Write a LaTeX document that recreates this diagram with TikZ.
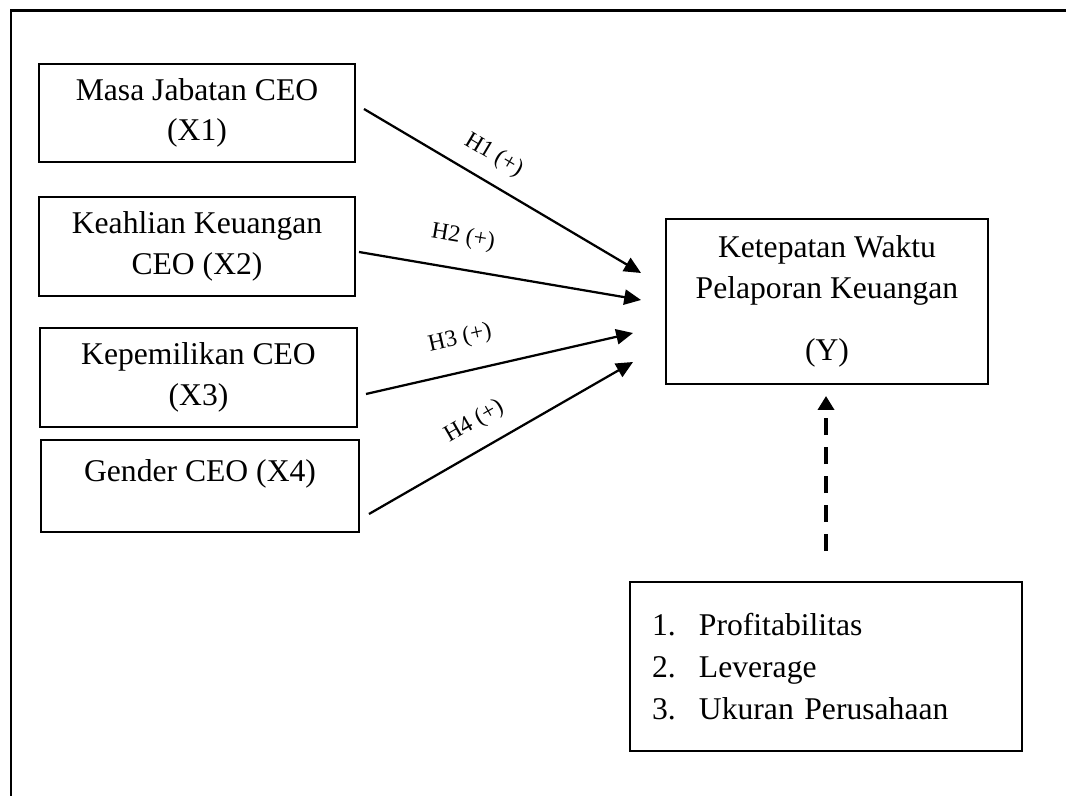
\documentclass[tikz,border=0pt]{standalone}
\usepackage{fontspec}
\setmainfont{Liberation Serif}
\usetikzlibrary{%
    arrows.meta,calc,%
    positioning
}

\begin{document}
\begin{tikzpicture}[ var/.style={draw,line width=1.4pt,align=center,
        font={\fontsize{22.5}{29}\selectfont},
        minimum width=7.9cm,minimum height=2.45cm,inner sep=0pt},
    hyp/.style={font={\fontsize{16.8}{18}\selectfont},sloped,inner sep=1pt},
    link/.style={line width=1.6pt,-{Triangle[length=0.42cm,width=0.38cm]}}]
\useasboundingbox (0,0) rectangle (26.65,19.9);
\draw[line width=1.5pt] (26.65,19.6375) -- (0.275,19.6375) -- (0.275,0);

% variabel independen
\node[var] (x1) at (4.925,17.075) {Masa Jabatan CEO\\(X1)};
\node[var,minimum height=2.475cm] (x2) at (4.925,13.7375) {Keahlian Keuangan\\CEO (X2)};
\node[var,minimum width=7.925cm,minimum height=2.475cm] (x3) at (4.9625,10.4625) {Kepemilikan CEO\\(X3)};
\node[var,minimum width=7.95cm,minimum height=2.3cm,text depth=0.75cm] (x4) at (5,7.75) {Gender CEO (X4)};

% variabel dependen
\node[var,minimum width=8.05cm,minimum height=4.125cm] (y) at (20.675,12.3625) {Ketepatan Waktu\\Pelaporan Keuangan\\[0.55cm](Y)};

% variabel kontrol
\node[var,font={\fontsize{22.5}{30.1}\selectfont},align=left,text width=8.7cm,
    minimum height=4.225cm,inner xsep=0.55cm] (ctrl) at (20.65,3.2375)
    {\makebox[1.175cm][l]{1.}Profitabilitas\\
     \makebox[1.175cm][l]{2.}Leverage\\
     \makebox[1.175cm][l]{3.}Ukuran Perusahaan};

\coordinate (t1) at ($(y.west)+(-0.6,0.7125)$);
\coordinate (t2) at ($(y.west)+(-0.6,0.0375)$);
\coordinate (t3) at ($(y.west)+(-0.8,-0.7875)$);
\coordinate (t4) at ($(y.west)+(-0.8,-1.5125)$);

\draw[link] ([shift={(0.2,0.1)}]x1.east) -- (t1) node[hyp,pos=0.42,above=0.32cm]{H1 (+)};
\draw[link] ([shift={(0.075,-0.1375)}]x2.east) -- (t2) node[hyp,pos=0.35,above=0.46cm]{H2 (+)};
\draw[link] ([shift={(0.2,-0.4125)}]x3.east) -- (t3) node[hyp,pos=0.38,above=0.5cm]{H3 (+)};
\draw[link] ([shift={(0.225,-0.7)}]x4.east) -- (t4) node[hyp,pos=0.45,above=0.35cm]{H4 (+)};

\draw[line width=2.8pt,dash pattern=on 0.425cm off 0.3cm,
    -{Triangle[length=0.35cm,width=0.4cm]},shorten <=0.75cm,shorten >=0.275cm]
    (ctrl.north) -- (ctrl.north |- y.south);
\end{tikzpicture}
\end{document}
